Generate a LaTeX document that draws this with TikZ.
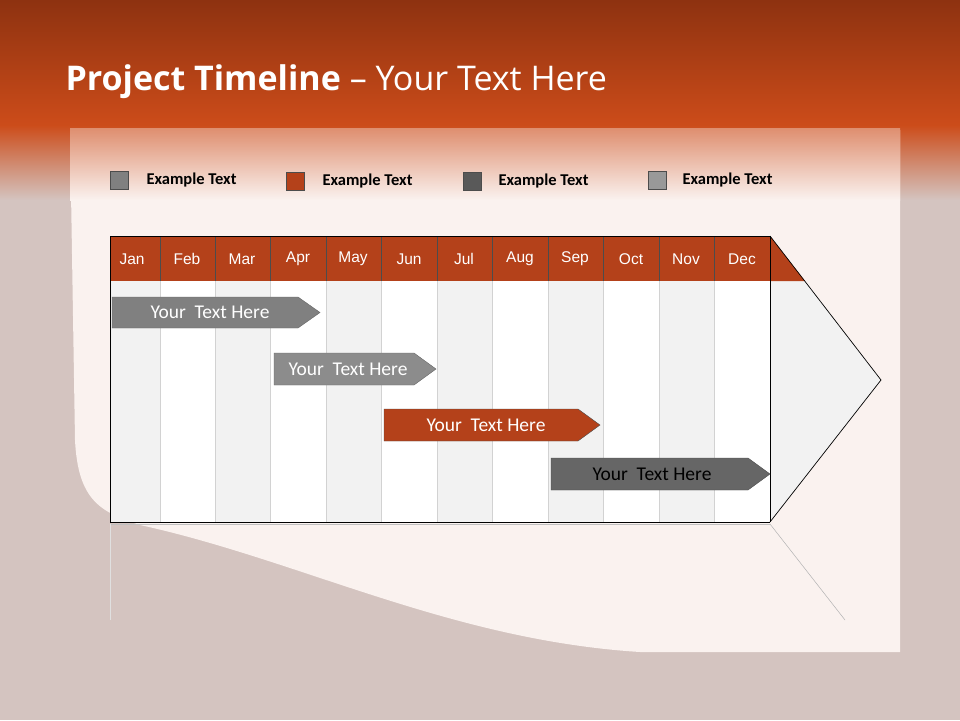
\documentclass[tikz,border=0pt]{standalone}
\usepackage{fontspec}
\setmainfont{Carlito}
\newfontfamily\titlefont{Open Sans}
\newfontfamily\monthfont{Liberation Sans}
\begin{document}
\begin{tikzpicture}[x=1pt,y=-1pt,
  col/.style={draw={rgb,255:red,210;green,210;blue,210},line width=0.5pt},
  mon/.style={text=white,font=\monthfont\fontsize{15.5}{18}\selectfont},
  leg/.style={draw=black!70,line width=0.6pt},
  legt/.style={anchor=west,font=\bfseries\fontsize{16.5}{19}\selectfont},
  bartxt/.style={font=\fontsize{19.5}{22}\selectfont}]
\definecolor{bgc}{RGB}{212,196,192}
\definecolor{topa}{RGB}{142,50,16}
\definecolor{topb}{RGB}{204,76,26}
\definecolor{paper}{RGB}{250,242,239}
\definecolor{orng}{RGB}{180,65,26}
\useasboundingbox (0,0) rectangle (960,720);
\fill[bgc] (0,0) rectangle (960,720);
\shade[top color=topa,bottom color=topb] (0,0) rectangle (960,125);
\shade[top color=topb,bottom color=bgc] (0,125) rectangle (960,200);
% paper
\fill[paper] (70,130) -- (900,130) -- (900,652) -- (640,652)
  .. controls (450,640) and (300,560) .. (140,525)
  .. controls (100,512) and (78,500) .. (75,440) -- cycle;
\shade[top color=topb!60!paper,bottom color=paper] (70,128) rectangle (900,200);
\node[anchor=west,text=white,font=\titlefont\fontsize{34}{40}\selectfont] (title) at (62,82) {\textbf{Project Timeline} – Your Text Here};
% legend
\filldraw[leg,fill=black!50] (110,171) rectangle (128,189);
\node[legt] (l1) at (143,180) {Example Text};
\filldraw[leg,fill=orng] (286,172) rectangle (304,190);
\node[legt] (l2) at (319,181) {Example Text};
\filldraw[leg,fill=black!65] (463,172) rectangle (481,190);
\node[legt] (l3) at (495,181) {Example Text};
\filldraw[leg,fill=black!40] (648,171) rectangle (666,189);
\node[legt] (l4) at (679,180) {Example Text};
% body
\fill[white] (110,281) rectangle (770,522);
\foreach \a/\b in {110/160,215/270,326/381,437/492,548/603,659/714}
  \fill[black!5] (\a,281) rectangle (\b,522);
\fill[black!5] (770,281) -- (805,281) -- (881,380) -- (770,522) -- cycle;
\foreach \x in {160,215,270,326,381,437,492,548,603,659,714}
  \draw[col] (\x,281) -- (\x,522);
% header
\fill[orng] (110,236) rectangle (770,281);
\fill[orng] (770,236) -- (805,281) -- (770,281) -- cycle;
\foreach \x in {160,215,270,326,381,437,492,548,603,659,714}
  \draw[black!70,line width=0.6pt] (\x,236) -- (\x,281);
\draw[black,line width=0.7pt] (770,522) -- (110,522) -- (110,236) -- (770,236) -- (770,522);
\draw[black,line width=0.7pt] (770,236) -- (881,380) -- (770,522);
\foreach \n/\m in {132/Jan,187/Feb,242/Mar,298/Apr,353/May,409/Jun,464/Jul,520/Aug,575/Sep,631/Oct,686/Nov,742/Dec}
  \node[mon] (m\m) at (\n,259) {\m};
% reflection
\draw[black!25,line width=0.5pt] (110,524) -- (770,524);
\draw[black!12,line width=0.5pt] (110,524) -- (110,620);
\draw[black!30,line width=0.5pt] (770,524) -- (845,620);
% bars
\filldraw[draw=black!60,fill=black!50] (112,297) -- (298,297) -- (320,312.5) -- (298,328) -- (112,328) -- cycle;
\node[bartxt,text=white] (b1) at (210,312.5) {Your\ \ Text Here};
\filldraw[draw=black!60,fill=black!45] (274,353) -- (414,353) -- (436,369) -- (414,385) -- (274,385) -- cycle;
\node[bartxt,text=white] (b2) at (348,369) {Your\ \ Text Here};
\filldraw[draw=black!70,fill=orng] (384,409) -- (578,409) -- (600,425) -- (578,441) -- (384,441) -- cycle;
\node[bartxt,text=white] (b3) at (486,425) {Your\ \ Text Here};
\filldraw[draw=black!70,fill=black!60] (551,458) -- (748,458) -- (770,474) -- (748,490) -- (551,490) -- cycle;
\node[bartxt,text=black] (b4) at (652,474) {Your\ \ Text Here};
\end{tikzpicture}
\end{document}
